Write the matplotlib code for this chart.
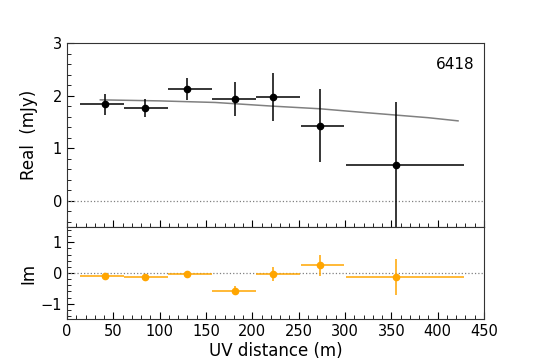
import matplotlib
matplotlib.use("Agg")
import matplotlib.pyplot as plt
from matplotlib.ticker import MultipleLocator

# binned visibilities
uv_mid = [41, 84, 129.5, 181, 222.6, 273, 354.7]
uv_lo = [14, 61, 109, 156, 204, 252, 301]
uv_hi = [61, 109, 156, 204, 251, 299, 428]
re_val = [1.84, 1.77, 2.12, 1.94, 1.97, 1.43, 0.68]
re_err = [0.20, 0.17, 0.21, 0.32, 0.46, 0.70, 1.19]
im_val = [-0.11, -0.12, -0.03, -0.58, -0.02, 0.25, -0.13]
im_err = [0.05, 0.04, 0.09, 0.15, 0.23, 0.35, 0.60]

# model curve
model_uv = [36, 100, 160, 222, 273, 320, 355, 390, 422]
model_re = [1.92, 1.90, 1.87, 1.80, 1.75, 1.68, 1.63, 1.58, 1.52]

label = "6418"

xerr_lo = [m - l for m, l in zip(uv_mid, uv_lo)]
xerr_hi = [h - m for m, h in zip(uv_mid, uv_hi)]

fig = plt.figure(figsize=(5.38, 3.59), dpi=100)
gs = fig.add_gridspec(2, 1, height_ratios=[2, 1], hspace=0,
                      left=0.1245, right=0.8996, top=0.880, bottom=0.1114)
ax1 = fig.add_subplot(gs[0])
ax2 = fig.add_subplot(gs[1], sharex=ax1)

ax1.axhline(0, color="gray", ls=":", lw=0.9)
ax1.plot(model_uv, model_re, color="gray", lw=1.1)
ax1.errorbar(uv_mid, re_val, yerr=re_err, xerr=[xerr_lo, xerr_hi],
             fmt="o", color="black", ms=4.5, lw=1.1, capsize=0)
ax1.text(0.978, 0.885, label, transform=ax1.transAxes, ha="right",
         va="center", fontsize=11)
ax1.set_ylim(-0.5, 3)
ax1.set_ylabel("Real  (mJy)", fontsize=12)
ax1.yaxis.set_major_locator(MultipleLocator(1))
ax1.yaxis.set_minor_locator(MultipleLocator(0.2))
plt.setp(ax1.get_xticklabels(), visible=False)

ax2.axhline(0, color="gray", ls=":", lw=0.9)
ax2.errorbar(uv_mid, im_val, yerr=im_err, xerr=[xerr_lo, xerr_hi],
             fmt="o", color="orange", ms=4.5, lw=1.1, capsize=0)
ax2.set_ylim(-1.5, 1.5)
ax2.set_ylabel("Im", fontsize=12)
ax2.set_xlabel("UV distance (m)", fontsize=12, labelpad=2)
ax2.yaxis.set_major_locator(MultipleLocator(1))
ax2.yaxis.set_minor_locator(MultipleLocator(0.2))

ax2.set_xlim(0, 450)
ax2.xaxis.set_major_locator(MultipleLocator(50))
ax2.xaxis.set_minor_locator(MultipleLocator(10))

for ax in (ax1, ax2):
    ax.tick_params(which="both", direction="in", top=False, right=False,
                   labelsize=10.5)
    ax.tick_params(which="major", length=5)
    ax.tick_params(which="minor", length=3)
    ax.yaxis.set_label_coords(-0.07, 0.5)
    for sp in ax.spines.values():
        sp.set_color("#333333")

fig.savefig("out.png", dpi=100)
